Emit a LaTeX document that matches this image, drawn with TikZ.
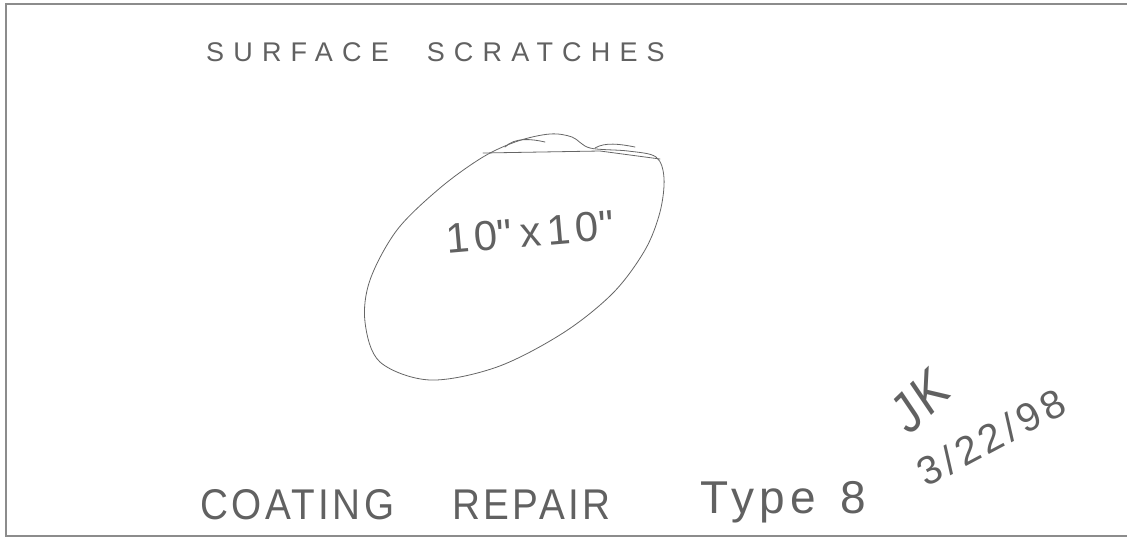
\documentclass[tikz,border=0pt]{standalone}
\usepackage{fontspec}
\newfontfamily\handfont{Liberation Sans}[LetterSpace=12]
\newfontfamily\handwide{Liberation Sans}[LetterSpace=34]
\newfontfamily\handnarrow{Liberation Sans}[FakeStretch=0.9,LetterSpace=8]
\usetikzlibrary{positioning}

\begin{document}
\begin{tikzpicture}[x=1pt,y=-1pt,
		frame/.style={draw=black!45,line width=1.6pt},
		ink/.style={draw=black!60,line width=0.8pt,line cap=round,line join=round},
		hand/.style={text=black!62,inner sep=0pt,anchor=base west}]
		\useasboundingbox (0,0) rectangle (1127,539);
		% sheet edge
		\coordinate (tr) at (1127,4);
		\coordinate (tl) at (6,4);
		\coordinate (bl) at (6,536);
		\coordinate (br) at (1127,536);
		\draw[frame] (tr) -- (tl) -- (bl) -- (br);
		% labels
		\node[hand,font=\handwide\fontsize{27}{27}\selectfont] (surf) at (206,61) {SURFACE\hspace{38pt}SCRATCHES};
		\node[hand,rotate=5,font=\handfont\fontsize{42}{42}\selectfont] (size) at (447,254) {10\textquotedbl\hspace{8pt}x\hspace{6pt}10\textquotedbl};
		\node[hand,font=\handnarrow\fontsize{43}{43}\selectfont] (coat) at (200,519) {COATING\hspace{58pt}REPAIR};
		\node[hand,font=\handfont\fontsize{46}{46}\selectfont] (type) at (700,513) {Type\hspace{24pt}8};
		\node[hand,rotate=44,font=\handnarrow\itshape\fontsize{54}{54}\selectfont] (sign) at (910,436) {JK};
		\node[hand,rotate=28,font=\handfont\fontsize{40}{40}\selectfont] (date) at (926,488) {3/22/98};
		% scratched area
		\draw[ink] plot[smooth cycle,tension=0.55] coordinates {
			(483,157) (518,141) (550,134) (572,137) (590,148) (628,151) (656,157)
			(664,178) (660,212) (645,250) (613,293) (563,333) (497,367)
			(430,380) (380,362) (365,322) (370,280) (397,230) (440,188)};
		\draw[ink] (483,153) -- (600,151) -- (660,159);
		\draw[ink] (505,147) .. controls (515,137) and (532,139) .. (545,142);
		\draw[ink] (595,148) .. controls (605,142) and (620,144) .. (635,147);
	\end{tikzpicture}
\end{document}
